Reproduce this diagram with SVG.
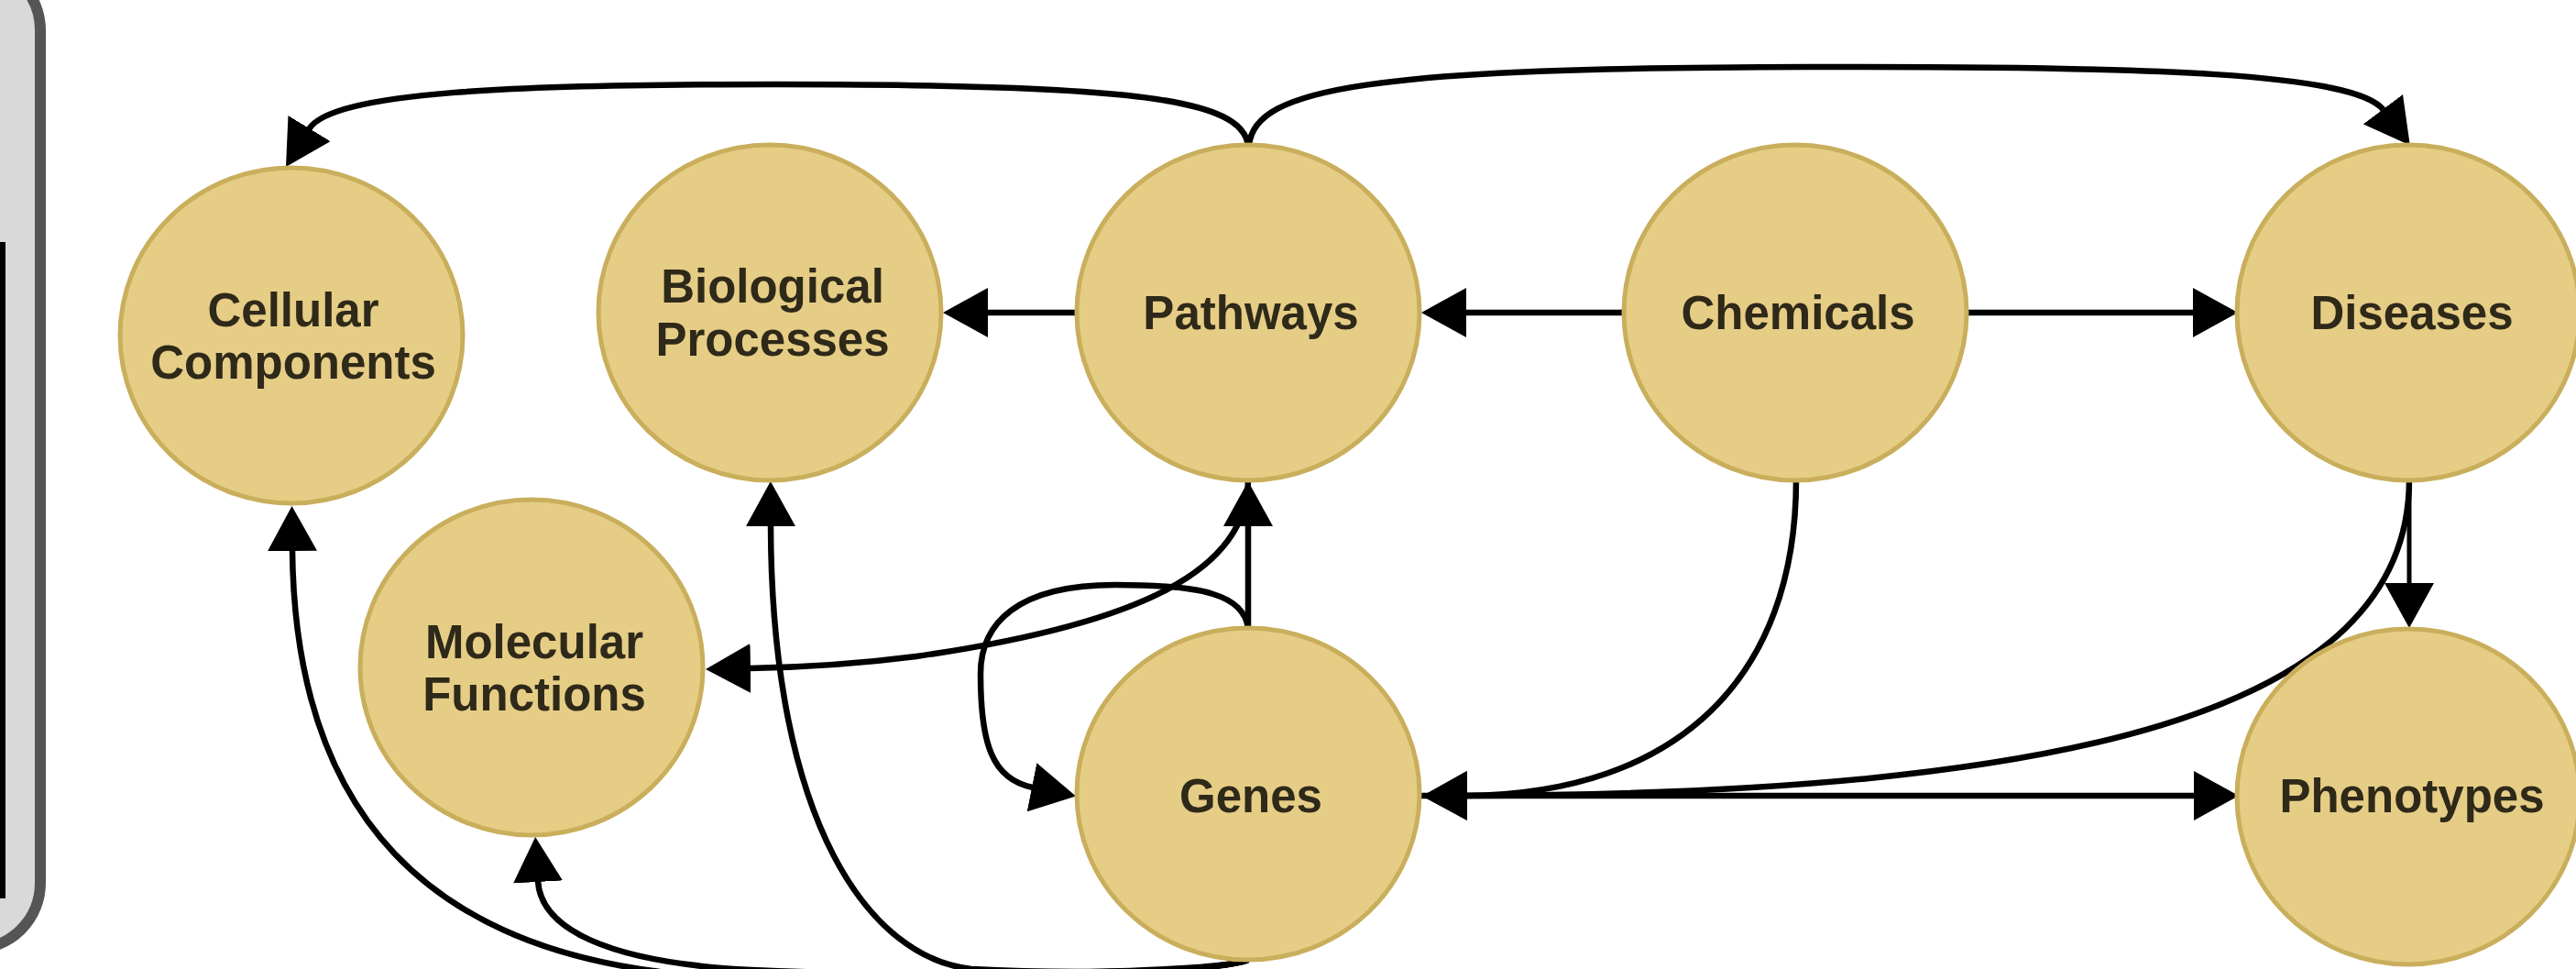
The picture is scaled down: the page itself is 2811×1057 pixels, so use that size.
<svg xmlns="http://www.w3.org/2000/svg" width="2811" height="1057" viewBox="0 0 2811 1057">
  <style>
    .node ellipse { fill: #E6CD86; stroke: #C9AE5C; stroke-width: 5; }
    .node text { font-family: "Liberation Sans", Arial, sans-serif; font-weight: bold; font-size: 51px; fill: #2E2919; text-anchor: middle; }
    .edge { fill: none; stroke: #000; stroke-width: 6.5; marker-end: url(#ah); }
  </style>
  <defs>
    <marker id="ah" markerUnits="userSpaceOnUse" viewBox="0 0 49 54" markerWidth="49" markerHeight="54" refX="1" refY="27" orient="auto">
      <path d="M0,0 L49,27 L0,54 z" fill="#000"/>
    </marker>
  </defs>

  <g id="side-panel">
    <rect x="-200" y="-39" width="244" height="1074" rx="72" ry="72" fill="#D9D9D9" stroke="#555555" stroke-width="12"/>
    <rect x="-10" y="264" width="16" height="716" fill="#000"/>
  </g>

  <g id="connectors">
    <path id="e-path-cc" class="edge" d="M1362,159 C1356,108 1240,92 846,92 C560,92 362,100 337,141"/>
    <path id="e-path-dis" class="edge" d="M1363,159 C1368,95 1500,74 1975,73 C2350,72 2571,80 2601,120"/>
    <path id="e-path-bp" class="edge" d="M1176,341 L1077,341"/>
    <path id="e-chem-path" class="edge" d="M1772,341 L1599,341"/>
    <path id="e-chem-dis" class="edge" d="M2146,341 L2394,341"/>
    <path id="e-genes-path" class="edge" d="M1362,686 L1362,573"/>
    <path id="e-path-mf" class="edge" d="M1362,523 C1362,620 1250,680 1000,716 C930,725 870,728 818,729"/>
    <path id="e-genes-self" class="edge" d="M1362,686 C1358,648 1310,638 1217,638 C1110,638 1070,680 1070,735 C1070,810 1082,850 1127,859"/>
    <path id="e-chem-genes" class="edge" d="M1960,523 C1960,740 1830,866 1600,868"/>
    <path id="e-dis-genes" class="edge" d="M2629,523 C2629,780 2250,866 1600,868"/>
    <path id="e-genes-phen" class="edge" d="M1549,868 L2395,868"/>
    <path id="e-dis-phen" class="edge" style="stroke-width:5" d="M2629,523 L2629,637"/>
    <path id="e-genes-cc" class="edge" d="M1362,1047 C1330,1062 1000,1066 720,1060 C480,1030 322,900 319,600"/>
    <path id="e-genes-bp" class="edge" d="M1362,1047 C1320,1062 1150,1062 1060,1057 C950,1045 842,900 841,573"/>
    <path id="e-genes-mf" class="edge" d="M1362,1047 C1320,1064 1000,1066 820,1058 C660,1050 590,1012 587,961"/>
  </g>

  <g id="node-cellular-components" class="node">
    <ellipse cx="318" cy="366" rx="187" ry="183"/>
    <text x="320" y="356">Cellular</text>
    <text x="320" y="413">Components</text>
  </g>
  <g id="node-biological-processes" class="node">
    <ellipse cx="840" cy="341" rx="187" ry="183"/>
    <text x="843" y="330">Biological</text>
    <text x="843" y="388">Processes</text>
  </g>
  <g id="node-pathways" class="node">
    <ellipse cx="1362" cy="341" rx="187" ry="183"/>
    <text x="1365" y="359">Pathways</text>
  </g>
  <g id="node-chemicals" class="node">
    <ellipse cx="1959" cy="341" rx="187" ry="183"/>
    <text x="1962" y="359">Chemicals</text>
  </g>
  <g id="node-diseases" class="node">
    <ellipse cx="2628" cy="341" rx="187" ry="183"/>
    <text x="2632" y="359">Diseases</text>
  </g>
  <g id="node-molecular-functions" class="node">
    <ellipse cx="580" cy="728" rx="187" ry="183"/>
    <text x="583" y="718">Molecular</text>
    <text x="583" y="775">Functions</text>
  </g>
  <g id="node-genes" class="node">
    <ellipse cx="1362" cy="866" rx="187" ry="181"/>
    <text x="1365" y="886">Genes</text>
  </g>
  <g id="node-phenotypes" class="node">
    <ellipse cx="2628" cy="869" rx="187" ry="183"/>
    <text x="2632" y="886">Phenotypes</text>
  </g>
</svg>
